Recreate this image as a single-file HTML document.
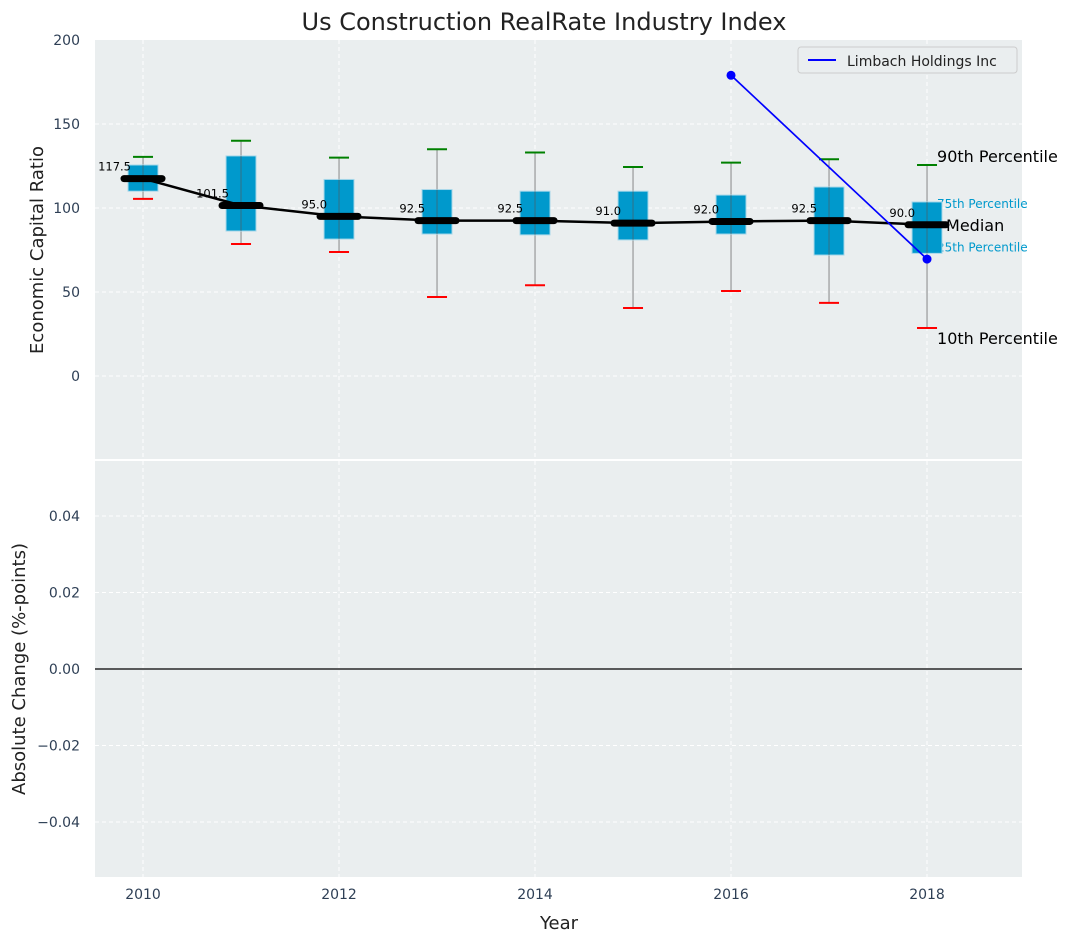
<!DOCTYPE html>
<html><head><meta charset="utf-8"><style>
body{margin:0;background:#fff;font-family:"Liberation Sans","DejaVu Sans",sans-serif}
svg text{font-family:"DejaVu Sans","Liberation Sans",sans-serif}
</style></head><body>
<svg id="chart" width="1072" height="942" viewBox="0 0 1072 942">
<text x="544" y="30" text-anchor="middle" font-size="24" fill="#222">Us Construction RealRate Industry Index</text>
<rect x="95" y="40" width="927" height="419" fill="#eaeeef"/>
<rect x="95" y="461" width="927" height="416" fill="#eaeeef"/>
<g id="grid"></g>
<g id="marks"></g>
<text transform="translate(43,250) rotate(-90)" text-anchor="middle" font-size="18" fill="#222">Economic Capital Ratio</text>
<text transform="translate(25,669) rotate(-90)" text-anchor="middle" font-size="18" fill="#222">Absolute Change (%-points)</text>
<text x="559" y="929" text-anchor="middle" font-size="18" fill="#222">Year</text>
<g>
<rect x="798" y="47" width="219" height="26" rx="3" fill="#eaeeef" stroke="#ccc"/>
<line x1="808" y1="60" x2="836" y2="60" stroke="#0000ff" stroke-width="2"/>
<text x="847" y="66" font-size="14" fill="#222">Limbach Holdings Inc</text>
</g>
</svg>
<script>
const years=[2010,2011,2012,2013,2014,2015,2016,2017,2018];
const p10=[105.4,78.6,73.8,47,54,40.5,50.6,43.5,28.6];
const p25=[110,86.3,81.5,84.5,84,81,84.5,72,73];
const medians=[117.5,101.5,95,92.5,92.5,91,92,92.5,90];
const p75=[125.6,131,117,111,110,110,107.7,112.5,103.6];
const p90=[130.4,140,130,135,133,124.4,127,129,125.6];
const companyYears=[2016,2018];
const companyValues=[179,69.6];
const topTicks=[0,50,100,150,200];
const bottomTicks=[-0.04,-0.02,0,0.02,0.04];
const xTicks=[2010,2012,2014,2016,2018];

const NS="http://www.w3.org/2000/svg";
const X=v=>95+(v-2009.51)*98;
const Y=v=>376-v*1.68;
const Y2=v=>669-v*3825;
const grid=document.getElementById('grid'),marks=document.getElementById('marks');
function mk(tag,attrs,parent,txt){const e=document.createElementNS(NS,tag);for(const k in attrs)e.setAttribute(k,attrs[k]);if(txt!==undefined)e.textContent=txt;parent.appendChild(e);return e;}
const tc="#2e3f55";
xTicks.forEach(t=>{
 const l1=mk('line',{x1:X(t),x2:X(t),y1:40,y2:459,stroke:'#fff','stroke-dasharray':'4,3'},grid);
 
 const l2=mk('line',{x1:X(t),x2:X(t),y1:461,y2:877,stroke:'#fff','stroke-dasharray':'4,3'},grid);
 
 const tx=mk('text',{x:X(t),y:899,'text-anchor':'middle','font-size':14,fill:tc},grid,String(t));
 
});
topTicks.forEach(t=>{
 if(t<200){const l=mk('line',{x1:95,x2:1022,y1:Y(t),y2:Y(t),stroke:'#fff','stroke-dasharray':'4,3'},grid);
 }
 const tx=mk('text',{x:80,y:Y(t)+5,'text-anchor':'end','font-size':14,fill:tc},grid,String(t));
 
});
bottomTicks.forEach(t=>{
 const l=mk('line',{x1:95,x2:1022,y1:Y2(t),y2:Y2(t),stroke:t===0?'#000':'#fff','stroke-dasharray':t===0?'':'4,3','stroke-width':t===0?1.2:1},grid);
 
 const s=(t<0?'\u22120.0':'0.0')+String(Math.round(Math.abs(t)*100));
 const tx=mk('text',{x:80,y:Y2(t)+5,'text-anchor':'end','font-size':14,fill:tc},grid,s);
 
});
const li=years.length-1,lx=X(years[li]);
const a1=mk('text',{x:lx+10,y:Y(p75[li])+6,'font-size':12,fill:'#0099cc'},marks,'75th Percentile');

const a2=mk('text',{x:lx+10,y:Y(p25[li])-2,'font-size':12,fill:'#0099cc'},marks,'25th Percentile');

years.forEach((yr,i)=>{
 const x=X(yr);
 const w=mk('line',{x1:x,x2:x,y1:Y(p90[i]),y2:Y(p10[i]),stroke:'#888','stroke-width':1},marks);
 
 const b=mk('rect',{x:x-15,y:Y(p75[i]),width:30,height:Y(p25[i])-Y(p75[i]),fill:'#0099cc',stroke:'#a8d8ea','stroke-width':1},marks);
 
 const w2=mk('line',{x1:x,x2:x,y1:Y(p75[i]),y2:Y(p25[i]),stroke:'#555','stroke-width':1,'stroke-opacity':0.6},marks);
 
 const hi=mk('line',{x1:x-10,x2:x+10,y1:Y(p90[i]),y2:Y(p90[i]),stroke:'#008000','stroke-width':2},marks);
 
 const lo=mk('line',{x1:x-10,x2:x+10,y1:Y(p10[i]),y2:Y(p10[i]),stroke:'#ff0000','stroke-width':2},marks);
 
});
const mp=mk('polyline',{points:years.map((y,i)=>X(y)+','+Y(medians[i])).join(' '),fill:'none',stroke:'#000','stroke-width':2.5},marks);

years.forEach((yr,i)=>{
 const x=X(yr);
 const m=mk('line',{x1:x-19,x2:x+19,y1:Y(medians[i]),y2:Y(medians[i]),stroke:'#000','stroke-width':7,'stroke-linecap':'round'},marks);
 
 const t=mk('text',{x:x-12,y:Y(medians[i])-8,'text-anchor':'end','font-size':11.5,fill:'#000'},marks,medians[i].toFixed(1));
 
});
const cl=mk('polyline',{points:companyYears.map((y,i)=>X(y)+','+Y(companyValues[i])).join(' '),fill:'none',stroke:'#0000ff','stroke-width':1.7},marks);

companyYears.forEach((y,i)=>{
 const c=mk('circle',{cx:X(y),cy:Y(companyValues[i]),r:4.5,fill:'#0000ff'},marks);
 
});
const a3=mk('text',{x:lx+10,y:Y(p90[li])-3,'font-size':16,fill:'#000'},marks,'90th Percentile');

const a4=mk('text',{x:lx+19,y:Y(medians[li])+6,'font-size':16,fill:'#000'},marks,'Median');

const a5=mk('text',{x:lx+10,y:Y(p10[li])+16,'font-size':16,fill:'#000'},marks,'10th Percentile');

</script>
</body></html>
